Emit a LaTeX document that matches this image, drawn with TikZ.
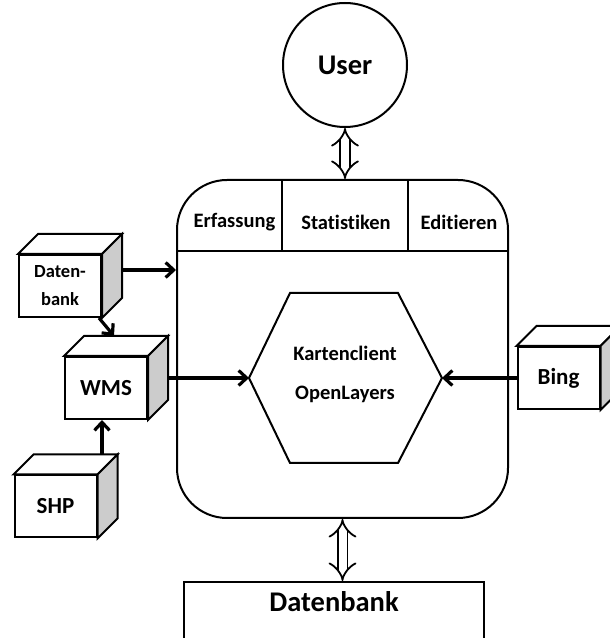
\documentclass[tikz,border=0pt]{standalone}
\usepackage{fontspec}
\setmainfont{Carlito}[Ligatures={NoCommon}]
\usetikzlibrary{arrows.meta,positioning,calc}

% cube: front node plus top and side face
\newcommand{\cubebox}[4][mid]{%
	\node[cube,#1] (#2) at (#3) {#4};
	\draw[shapeline, fill=white] (#2.north west) -- ++(20,20) -- ($(#2.north east)+(20,20)$) -- (#2.north east) -- cycle;
	\draw[shapeline, fill=gray!40] (#2.north east) -- ++(20,20) -- ($(#2.south east)+(20,20)$) -- (#2.south east) -- cycle;
}

\begin{document}
\begin{tikzpicture}[x=1pt, y=1pt,
	shapeline/.style={line width=2pt},
	cube/.style={shapeline, draw, fill=white, minimum width=82pt, minimum height=62pt, inner sep=0pt, align=center},
	arr/.style={line width=3.2pt, -{Straight Barb[length=8pt,width=15pt]}},
	dblarr/.style={double, double distance=8pt, line width=1.8pt, {Implies}-{Implies}},
	big/.style={font=\fontsize{28.5}{32}\selectfont\bfseries},
	mid/.style={font=\fontsize{23}{26}\selectfont\bfseries},
	small/.style={font=\fontsize{20.5}{24}\selectfont\bfseries},
	tiny/.style={font=\fontsize{18.5}{28}\selectfont\bfseries}]
	\useasboundingbox (0,0) rectangle (610,638);

	\node[shapeline, draw, circle, minimum size=124pt, big] (user) at (345,573) {User};

	% client box with header
	\node[shapeline, draw, rounded corners=50pt, minimum width=331pt, minimum height=338pt] (main) at (342.5,289) {};
	\draw[shapeline] (main.west |- 0,387) -- (main.east |- 0,387);
	\draw[shapeline] (282,387) -- (282,458);
	\draw[shapeline] (408,387) -- (408,458);
	\node[small] (erf) at (234.5,416) {Erfassung};
	\node[small] (stat) at (346,416) {Statistiken};
	\node[small] (edit) at (459,416) {Editieren};

	\draw[shapeline] (249,260) coordinate (hexL) -- (290,345) -- (398,345) -- (442,260) coordinate (hexR) -- (398,175) -- (290,175) -- cycle;
	\node[small, align=center] (kc) at (345,264) {Kartenclient\\[15pt]OpenLayers};

	\cubebox[tiny]{dbc}{60,352}{Daten-\\bank}
	\cubebox{wms}{106,250}{WMS}
	\cubebox{shp}{55.5,131.5}{SHP}
	\cubebox{bing}{558.5,260}{Bing}

	\node[shapeline, draw, minimum width=300pt, minimum height=90pt, anchor=north] (db) at (334,57) {};
	\node[big, below=7pt of db.north] (dbtext) {Datenbank};

	\draw[dblarr] (user.south) -- (user.south |- main.north);
	\draw[dblarr] (main.south) -- (main.south |- db.north);

	\draw[arr] ([xshift=20pt,yshift=16pt]dbc.east) -- ([yshift=16pt]dbc.east -| main.west);
	\draw[arr] ([xshift=-3pt]dbc.south east) -- ([xshift=8pt,yshift=20pt]wms.north);
	\draw[arr] ([xshift=20pt,yshift=10pt]wms.east) -- (hexL);
	\draw[arr] (bing.west) -- (hexR);
	\draw[arr] ([xshift=46.5pt,yshift=20pt]shp.north) -- ([xshift=-4pt]wms.south);
\end{tikzpicture}
\end{document}
